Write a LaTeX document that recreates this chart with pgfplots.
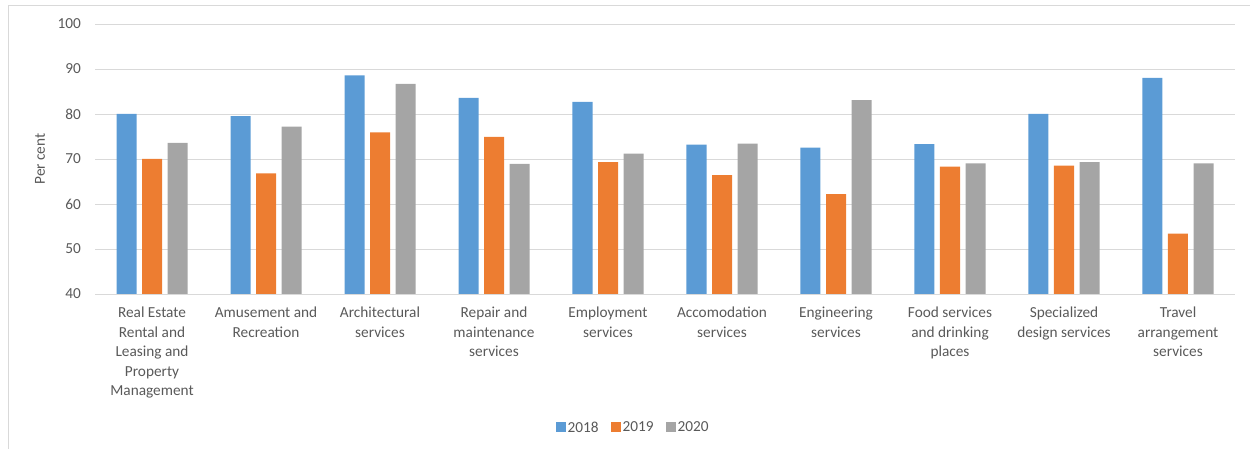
\documentclass[border=0pt]{standalone}
\usepackage{pgfplots}
\pgfplotsset{compat=1.18}
\usepackage{fontspec}
\setmainfont{Carlito}
\definecolor{c18}{HTML}{5B9BD5}
\definecolor{c19}{HTML}{ED7D31}
\definecolor{c20}{HTML}{A5A5A5}
\definecolor{gridc}{HTML}{D9D9D9}
\definecolor{txt}{HTML}{595959}
\begin{document}
\begin{tikzpicture}[x=1pt,y=1pt]
\useasboundingbox (0,0) rectangle (1250,449);
\draw[gridc, line width=0.8pt] (8,0) -- (8,444) -- (1250,444);
\begin{axis}[
  at={(95pt,155pt)}, anchor=south west,
  scale only axis, width=1140pt, height=270pt,
  xmin=-0.5, xmax=9.5, ymin=40, ymax=100,
  ytick={40,50,...,100},
  xtick={0,...,9},
  xticklabels={{Real Estate\\Rental and\\Leasing and\\Property\\Management},
    {Amusement and\\Recreation},{Architectural\\services},
    {Repair and\\maintenance\\services},{Employment\\services},
    {Accomodation\\services},{Engineering\\services},
    {Food services\\and drinking\\places},{Specialized\\design services},
    {Travel\\arrangement\\services}},
  ybar=5.5pt, bar width=20pt,
  axis line style={draw=none},
  axis x line*=bottom,
  x axis line style={draw=gridc, line width=0.8pt},
  major tick length=0pt,
  ymajorgrids, grid style={gridc, line width=0.8pt},
  /pgf/number format/assume math mode=true,
  tick label style={font=\fontsize{15.3}{19.5}\selectfont, text=txt},
  yticklabel style={inner sep=0pt, xshift=-14pt},
  xticklabel style={align=center, inner sep=0pt, anchor=north, yshift=-13pt},
  legend style={at={(0.472,-0.495)}, anchor=center, draw=none, fill=none,
    legend columns=-1, font=\fontsize{15.3}{18}\selectfont, text=txt,
    /tikz/every even column/.append style={column sep=10pt}},
  legend image code/.code={\path[#1, draw=none] (0pt,-4.5pt) rectangle (10pt,5.5pt);},
]
\addplot[fill=c18, draw=none] coordinates {(0,80.0) (1,79.5) (2,88.6) (3,83.6) (4,82.7) (5,73.2) (6,72.5) (7,73.3) (8,80.0) (9,88.0)};
\addplot[fill=c19, draw=none] coordinates {(0,70.0) (1,66.8) (2,75.9) (3,74.9) (4,69.3) (5,66.4) (6,62.2) (7,68.3) (8,68.5) (9,53.4)};
\addplot[fill=c20, draw=none] coordinates {(0,73.6) (1,77.2) (2,86.7) (3,68.9) (4,71.2) (5,73.4) (6,83.1) (7,69.0) (8,69.3) (9,69.0)};
\legend{2018,2019,2020}
\end{axis}
\node[rotate=90, text=txt, font=\fontsize{15.3}{18}\selectfont] at (40,290) {Per cent};
\end{tikzpicture}
\end{document}
